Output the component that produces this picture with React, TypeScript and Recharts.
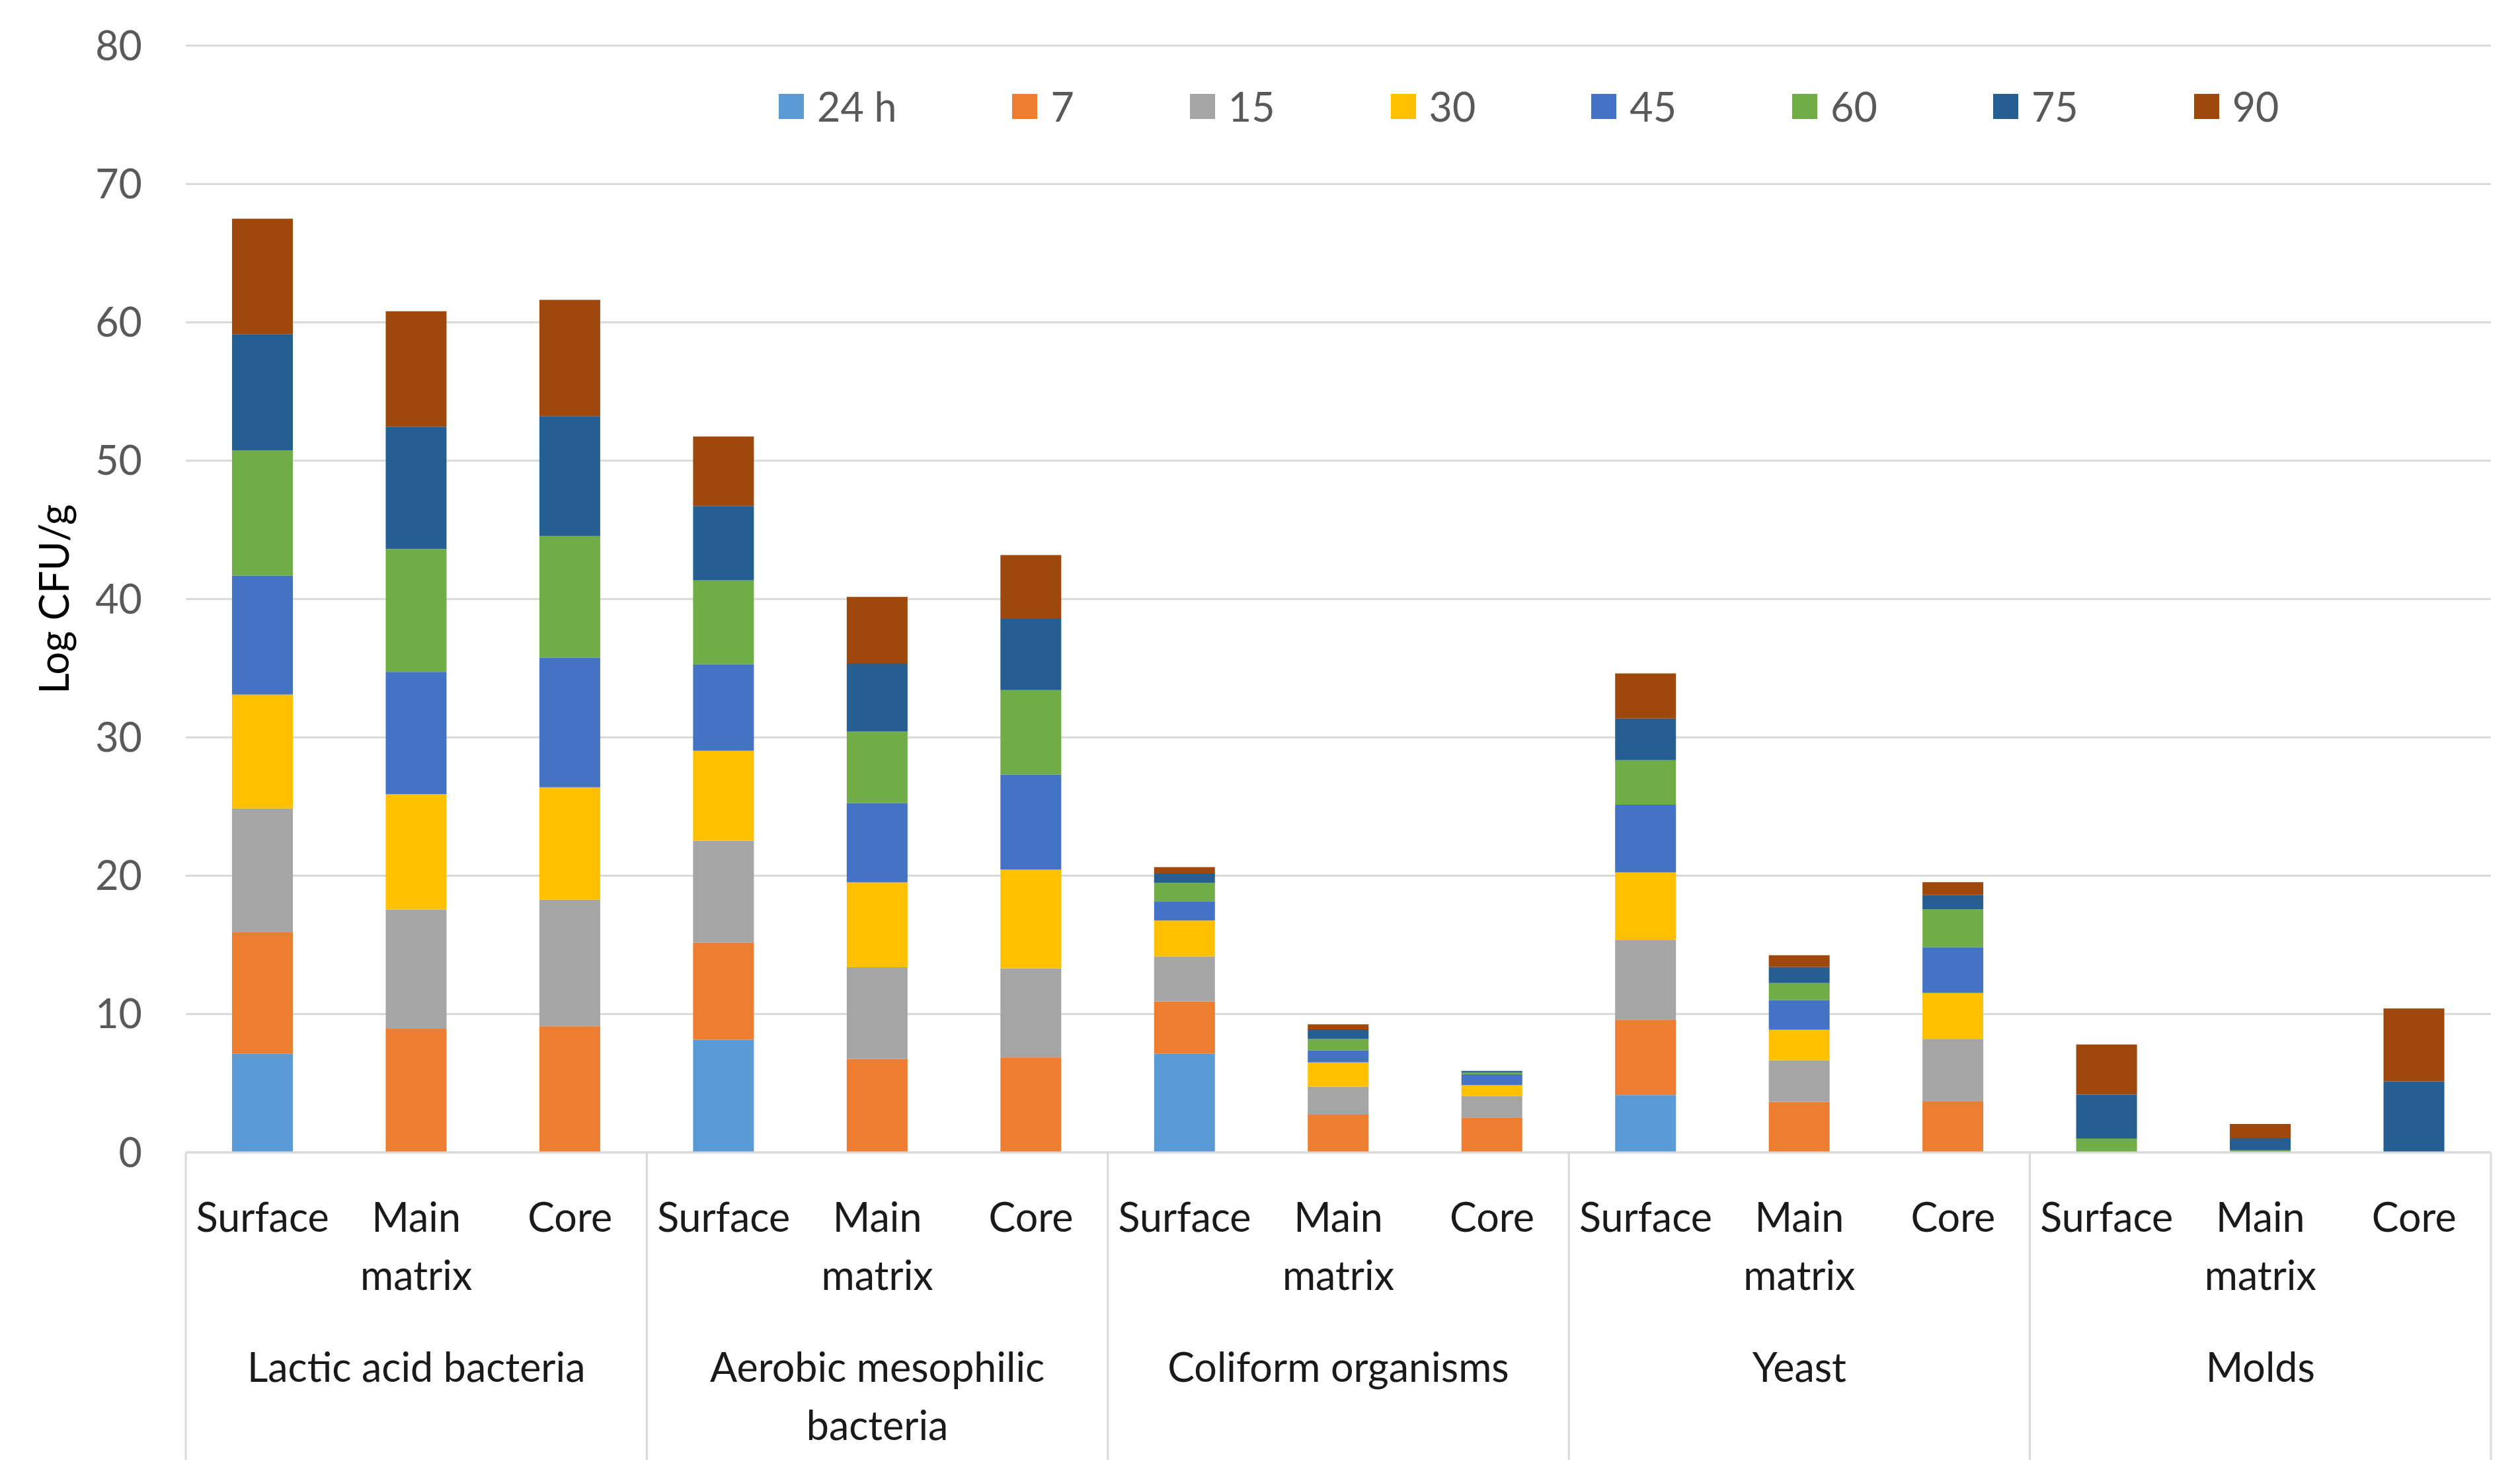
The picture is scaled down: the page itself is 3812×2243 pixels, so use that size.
import { BarChart, Bar, XAxis, YAxis, CartesianGrid, Legend } from 'recharts';

const groups = [
  ['Lactic acid bacteria'],
  ['Aerobic mesophilic', 'bacteria'],
  ['Coliform organisms'],
  ['Yeast'],
  ['Molds'],
];
const parts = [['Surface'], ['Main', 'matrix'], ['Core']];

const seriesNames = ['24 h', '7', '15', '30', '45', '60', '75', '90'];
const seriesColors = ['#5B9BD5', '#ED7D31', '#A5A5A5', '#FFC000', '#4472C4', '#70AD47', '#255E91', '#9E480E'];

// order: LAB S/M/C, AMB S/M/C, Coliform S/M/C, Yeast S/M/C, Molds S/M/C
const h24 = [7.13, 0, 0, 8.15, 0, 0, 7.14, 0, 0, 4.15, 0, 0, 0, 0, 0];
const d7 = [8.78, 8.94, 9.11, 7.02, 6.76, 6.87, 3.78, 2.72, 2.52, 5.44, 3.65, 3.68, 0, 0, 0];
const d15 = [8.95, 8.62, 9.16, 7.35, 6.62, 6.44, 3.25, 2.03, 1.55, 5.75, 3.01, 4.53, 0, 0, 0];
const d30 = [8.23, 8.34, 8.12, 6.51, 6.14, 7.13, 2.59, 1.76, 0.81, 4.9, 2.2, 3.32, 0, 0, 0];
const d45 = [8.61, 8.83, 9.38, 6.25, 5.74, 6.87, 1.39, 0.87, 0.76, 4.9, 2.15, 3.31, 0, 0, 0];
const d60 = [9.05, 8.89, 8.78, 6.07, 5.16, 6.11, 1.35, 0.84, 0.13, 3.21, 1.24, 2.75, 1.0, 0.16, 0];
const d75 = [8.4, 8.84, 8.67, 5.38, 4.94, 5.15, 0.67, 0.67, 0.12, 3.01, 1.14, 1.01, 3.18, 0.84, 5.14];
const d90 = [8.34, 8.34, 8.4, 5.01, 4.79, 4.61, 0.45, 0.37, 0, 3.26, 0.86, 0.93, 3.62, 1.06, 5.27];

const seriesValues = [h24, d7, d15, d30, d45, d60, d75, d90];
const yTicks = [0, 10, 20, 30, 40, 50, 60, 70, 80];

const data = h24.map((_, i) => {
  const row: Record<string, any> = { id: i };
  seriesNames.forEach((s, k) => (row[s] = seriesValues[k][i]));
  return row;
});

const FONT = "Lato, 'Open Sans', sans-serif";

function CatTick(props: any) {
  const { x, y, payload } = props;
  const i = payload.index ?? payload.value;
  const off = payload.offset || 116;
  const lines = parts[i % 3];
  const g = groups[Math.floor(i / 3)];
  return (
    <g>
      {lines.map((t, k) => (
        <text key={k} x={x} y={y + 120 + k * 88} textAnchor="middle" fontSize={61} fill="#1a1a1a" fontFamily={FONT}>
          {t}
        </text>
      ))}
      {i % 3 === 1 &&
        g.map((t, k) => (
          <text key={'g' + k} x={x} y={y + 347 + k * 88} textAnchor="middle" fontSize={61} fill="#1a1a1a" fontFamily={FONT}>
            {t}
          </text>
        ))}
      {i % 3 === 0 && <line x1={x - off} x2={x - off} y1={y} y2={y + 465} stroke="#d9d9d9" strokeWidth={3} />}
      {i === 14 && <line x1={x + off} x2={x + off} y1={y} y2={y + 465} stroke="#d9d9d9" strokeWidth={3} />}
    </g>
  );
}

function LegendBox() {
  return (
    <div style={{ display: 'flex', alignItems: 'center', gap: 175, fontFamily: FONT, fontSize: 61, color: '#595959' }}>
      {seriesNames.map((s, k) => (
        <div key={s} style={{ display: 'flex', alignItems: 'center', whiteSpace: 'nowrap' }}>
          <span style={{ display: 'inline-block', width: 38, height: 38, background: seriesColors[k], marginRight: 20 }} />
          <span>{s}</span>
        </div>
      ))}
    </div>
  );
}

export default function App() {
  return (
    <div style={{ position: 'absolute', left: 0, top: 0, width: 3812, height: 2243, background: '#fff' }}>
      <BarChart width={3812} height={2243} data={data} margin={{ top: 69, right: 44, bottom: 0, left: 0 }}>
        <CartesianGrid vertical={false} stroke="#d9d9d9" strokeWidth={3} />
        <XAxis
          dataKey="id"
          interval={0}
          height={500}
          tickSize={0}
          tickMargin={0}
          axisLine={{ stroke: '#d9d9d9', strokeWidth: 3 }}
          tick={<CatTick />}
        />
        <YAxis
          width={281}
          domain={[0, 80]}
          ticks={yTicks}
          axisLine={false}
          tickLine={false}
          tickSize={0}
          tickMargin={66}
          tick={{ fontSize: 61, fill: '#595959', fontFamily: FONT }}
          label={{
            content: (p: any) => {
              const vb = p.viewBox || { x: 0, y: 69, width: 281, height: 1674 };
              const cx = 80;
              const cy = vb.y + vb.height / 2;
              return (
                <text x={cx} y={cy} transform={`rotate(-90 ${cx} ${cy})`} textAnchor="middle" dominantBaseline="central" fontSize={61} fill="#000" fontFamily={FONT}>
                  Log CFU/g
                </text>
              );
            },
          }}
        />
        <Legend
          layout="vertical"
          align="center"
          verticalAlign="middle"
          content={<LegendBox />}
          wrapperStyle={{ top: 124, left: 1178, width: 'auto', height: 'auto' }}
        />
        {seriesNames.map((s, k) => (
          <Bar key={s} dataKey={s} stackId="a" fill={seriesColors[k]} barSize={92} isAnimationActive={false} />
        ))}
      </BarChart>
    </div>
  );
}
